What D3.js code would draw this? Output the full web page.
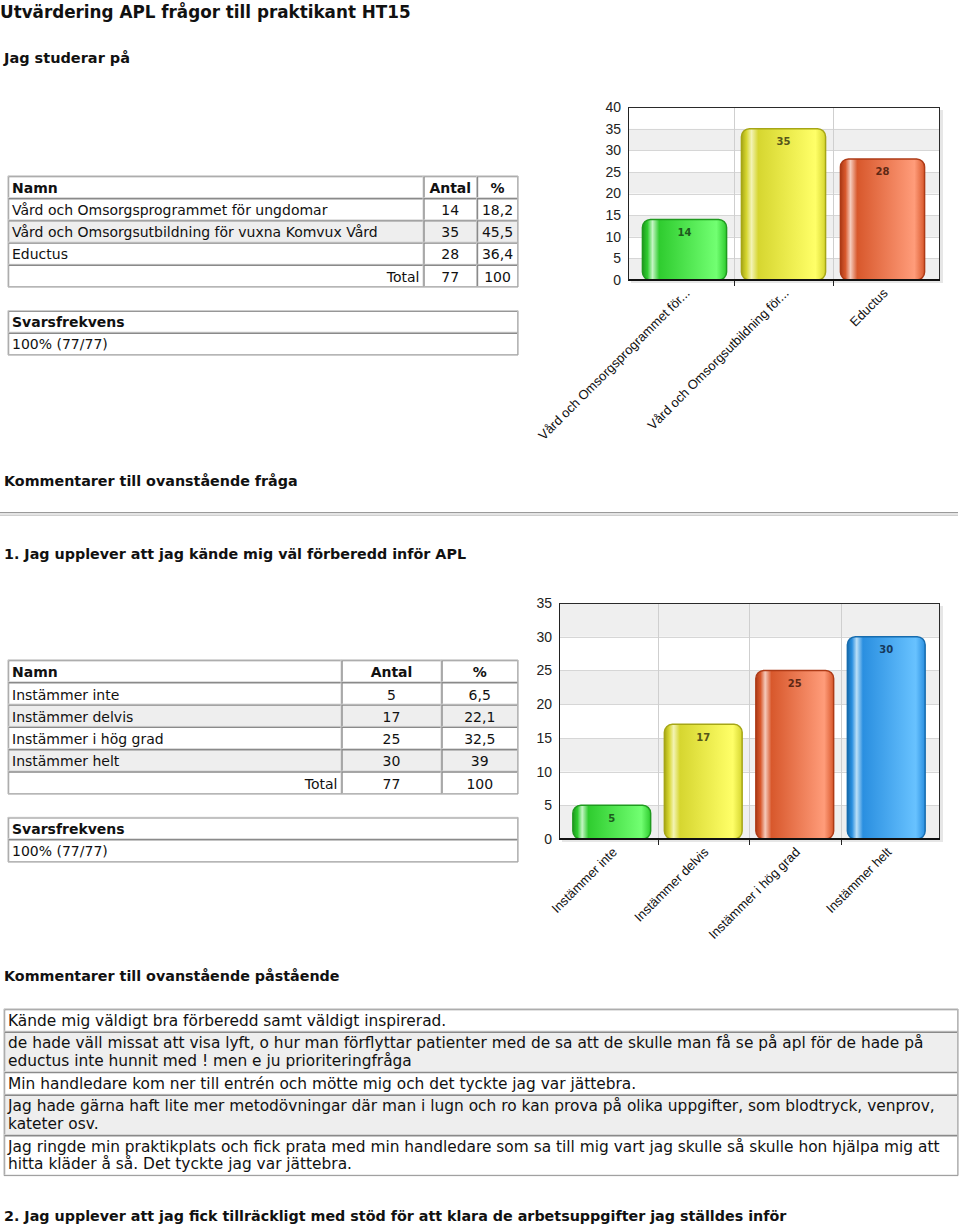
<!DOCTYPE html>
<html><head><meta charset="utf-8">
<script src="https://cdn.jsdelivr.net/npm/d3@7"></script>
<style>
html,body{margin:0;padding:0;background:#fff;}
svg{display:block;}
</style></head>
<body>
<script>
// ---------- DATA ----------
const pageTitle = "Utvärdering APL frågor till praktikant HT15";
const q0Title = "Jag studerar på";
const q0Categories = ["Vård och Omsorgsprogrammet för ungdomar", "Vård och Omsorgsutbildning för vuxna Komvux Vård", "Eductus"];
const q0AxisLabels = ["Vård och Omsorgsprogrammet för...", "Vård och Omsorgsutbildning för...", "Eductus"];
const q0Counts = [14, 35, 28];
const q0Percents = ["18,2", "45,5", "36,4"];
const q0Total = ["77", "100"];
const q0Ticks = [0, 5, 10, 15, 20, 25, 30, 35, 40];
const q0Response = "100% (77/77)";
const q0CommentHeading = "Kommentarer till ovanstående fråga";

const q1Title = "1. Jag upplever att jag kände mig väl förberedd inför APL";
const q1Categories = ["Instämmer inte", "Instämmer delvis", "Instämmer i hög grad", "Instämmer helt"];
const q1Counts = [5, 17, 25, 30];
const q1Percents = ["6,5", "22,1", "32,5", "39"];
const q1Total = ["77", "100"];
const q1Ticks = [0, 5, 10, 15, 20, 25, 30, 35];
const q1Response = "100% (77/77)";
const q1CommentHeading = "Kommentarer till ovanstående påstående";
const q1Comments = [
  ["Kände mig väldigt bra förberedd samt väldigt inspirerad."],
  ["de hade väll missat att visa lyft, o hur man förflyttar patienter med de sa att de skulle man få se på apl för de hade på",
   "eductus inte hunnit med ! men e ju prioriteringfråga"],
  ["Min handledare kom ner till entrén och mötte mig och det tyckte jag var jättebra."],
  ["Jag hade gärna haft lite mer metodövningar där man i lugn och ro kan prova på olika uppgifter, som blodtryck, venprov,",
   "kateter osv."],
  ["Jag ringde min praktikplats och fick prata med min handledare som sa till mig vart jag skulle så skulle hon hjälpa mig att",
   "hitta kläder å så. Det tyckte jag var jättebra."]
];
const q2Title = "2. Jag upplever att jag fick tillräckligt med stöd för att klara de arbetsuppgifter jag ställdes inför";
const tableHeaders = ["Namn", "Antal", "%"];
const responseHeader = "Svarsfrekvens";
const totalLabel = "Total";

// bar palette: [dark, base, light, highlight, labelColor]
const barPalette = [
  ["#1f9a1f", "#2fcc2f", "#72ff72", "#c4f5c4", "#1d5a1d"],
  ["#a6a616", "#d6d630", "#ffff68", "#f3f3b4", "#55551a"],
  ["#ad3a16", "#d8582c", "#ff9c7a", "#f5cabb", "#5e2814"],
  ["#176cae", "#2a8fe0", "#68c2ff", "#bcdff7", "#16395c"]
];

// ---------- SETUP ----------
const W = 960, H = 1225;
const svg = d3.select("body").append("svg").attr("width", W).attr("height", H)
  .attr("font-family", "'DejaVu Sans', Verdana, sans-serif");
const defs = svg.append("defs");

barPalette.forEach((p, i) => {
  const g = defs.append("linearGradient").attr("id", "bar" + i)
    .attr("x1", "0%").attr("x2", "100%").attr("y1", "0%").attr("y2", "0%");
  [[0, p[0]], [0.06, p[1]], [0.12, p[3]], [0.2, p[1]], [0.88, p[2]], [1, p[1]]]
    .forEach(([o, c]) => g.append("stop").attr("offset", o).attr("stop-color", c));
});

function heading(text, x, y, size) {
  svg.append("text").attr("x", x).attr("y", y).attr("font-weight", "bold")
    .attr("font-size", size).attr("fill", "#111").text(text);
}

heading(pageTitle, 0, 17.5, 16.8);
heading(q0Title, 4, 63, 14.5);
heading(q0CommentHeading, 4, 486, 14.3);
heading(q1Title, 4, 559, 14.3);
heading(q1CommentHeading, 4, 981, 14.3);
heading(q2Title, 4, 1221, 14.3);

// horizontal rule
svg.append("rect").attr("x", 0).attr("y", 512).attr("width", 958).attr("height", 3).attr("fill", "#e4e4e4");
svg.append("line").attr("x1", 0).attr("x2", 958).attr("y1", 512.5).attr("y2", 512.5).attr("stroke", "#9a9a9a");
svg.append("line").attr("x1", 0).attr("x2", 958).attr("y1", 515.5).attr("y2", 515.5).attr("stroke", "#d0d0d0");

// ---------- TABLES ----------
function drawTable(colB, rowB, rows, grayRows, fontSize, baseOff, lineH) {
  const g = svg.append("g").attr("font-size", fontSize);
  rows.forEach((row, ri) => {
    const y0 = rowB[ri], y1 = rowB[ri + 1];
    row.forEach((cell, ci) => {
      const x0 = colB[ci], x1 = colB[ci + 1];
      g.append("rect").attr("x", x0).attr("y", y0).attr("width", x1 - x0).attr("height", y1 - y0)
        .attr("fill", grayRows.includes(ri) ? "#eeeeee" : "#ffffff");
      g.append("path").attr("d", `M${x0 + 0.5},${y1}V${y0 + 0.5}H${x1}`).attr("fill", "none")
        .attr("stroke", "#8a8a8a").attr("stroke-width", 1.4);
      g.append("path").attr("d", `M${x0},${y1 - 0.5}H${x1 - 0.5}V${y0}`).attr("fill", "none")
        .attr("stroke", "#d2d2d2").attr("stroke-width", 1);
      if (cell.t === "") return;
      const lines = Array.isArray(cell.t) ? cell.t : [cell.t];
      const tx = cell.a === "middle" ? (x0 + x1) / 2 : cell.a === "end" ? x1 - 4 : x0 + 4;
      lines.forEach((ln, li) => {
        g.append("text").attr("x", tx).attr("y", y0 + baseOff + li * lineH)
          .attr("text-anchor", cell.a).attr("font-weight", cell.b ? "bold" : "normal")
          .attr("fill", "#111").text(ln);
      });
    });
  });
  const x0 = colB[0], x1 = colB[colB.length - 1], y0 = rowB[0], y1 = rowB[rowB.length - 1];
  g.append("path").attr("d", `M${x0},${y1}V${y0}H${x1}`).attr("fill", "none").attr("stroke", "#cfcfcf");
  g.append("path").attr("d", `M${x0},${y1}H${x1}V${y0}`).attr("fill", "none").attr("stroke", "#9a9a9a");
}

function countRows(cats, counts, pcts, total) {
  const rows = [tableHeaders.map((h, i) => ({ t: h, a: i === 0 ? "start" : "middle", b: true }))];
  cats.forEach((c, i) => rows.push([{ t: c, a: "start" }, { t: String(counts[i]), a: "middle" }, { t: pcts[i], a: "middle" }]));
  rows.push([{ t: totalLabel, a: "end" }, { t: total[0], a: "middle" }, { t: total[1], a: "middle" }]);
  return rows;
}

drawTable([8, 423.5, 477, 518], [176, 198.2, 220.4, 242.6, 264.8, 287],
  countRows(q0Categories, q0Counts, q0Percents, q0Total), [2], 14, 16.8, 18);
drawTable([8, 518], [310.7, 332.7, 355],
  [[{ t: responseHeader, a: "start", b: true }], [{ t: q0Response, a: "start" }]], [], 14, 16.5, 18);

drawTable([8, 341.5, 441.5, 518], [660, 682.3, 704.6, 726.9, 749.2, 771.5, 794],
  countRows(q1Categories, q1Counts, q1Percents, q1Total), [2, 4], 14, 17.2, 18);
drawTable([8, 518], [817.3, 839.3, 862],
  [[{ t: responseHeader, a: "start", b: true }], [{ t: q1Response, a: "start" }]], [], 14, 17, 18);

(function () {
  const lh = 17.7;
  const rowB = [1009];
  q1Comments.forEach(c => rowB.push(rowB[rowB.length - 1] + c.length * lh + 5));
  drawTable([4, 958], rowB, q1Comments.map(c => [{ t: c, a: "start" }]), [1, 3], 15.4, 16.5, lh);
})();

// ---------- CHARTS ----------
function drawBarChart(cfg) {
  const [fx0, fx1, fy0, fy1] = cfg.frame;
  const g = svg.append("g");
  const x = d3.scaleBand().domain(cfg.cats).range(cfg.band).padding(0);
  const y = d3.scaleLinear().domain([0, cfg.yMax]).range([fy1, fy0]);

  for (let i = 0; i < cfg.ticks.length - 1; i++) {
    const a = cfg.ticks[i], b = cfg.ticks[i + 1];
    g.append("rect").attr("x", fx0).attr("width", fx1 - fx0)
      .attr("y", y(b)).attr("height", y(a) - y(b))
      .attr("fill", (a / 5) % 2 === 0 ? "#efefef" : "#ffffff");
  }
  g.append("rect").attr("x", fx1).attr("y", fy0 + 3).attr("width", 3).attr("height", fy1 - fy0)
    .attr("fill", "#e6e6e6");
  g.append("rect").attr("x", fx0 + 3).attr("y", fy1).attr("width", fx1 - fx0).attr("height", 3)
    .attr("fill", "#e6e6e6");
  cfg.ticks.forEach(t => g.append("line").attr("x1", fx0).attr("x2", fx1)
    .attr("y1", Math.round(y(t)) + 0.5).attr("y2", Math.round(y(t)) + 0.5).attr("stroke", "#d6d6d6"));
  cfg.cats.slice(1).forEach(c => {
    const bx = Math.round(x(c)) + 0.5;
    g.append("line").attr("x1", bx).attr("x2", bx).attr("y1", fy0).attr("y2", fy1).attr("stroke", "#cfcfcf");
    g.append("line").attr("x1", bx).attr("x2", bx).attr("y1", fy1).attr("y2", fy1 + 6).attr("stroke", "#222");
  });
  g.append("rect").attr("x", fx0 + 0.5).attr("y", fy0 + 0.5).attr("width", fx1 - fx0 - 1).attr("height", fy1 - fy0)
    .attr("fill", "none").attr("stroke", "#2a2a2a");

  const bw = x.bandwidth() * 0.85;
  cfg.cats.forEach((c, i) => {
    const v = cfg.values[i], p = barPalette[i];
    const bx = x(c) + (x.bandwidth() - bw) / 2;
    g.append("rect").attr("x", bx).attr("y", y(v)).attr("width", bw).attr("height", y(0) - y(v))
      .attr("rx", 8).attr("ry", 8).attr("fill", `url(#bar${i})`)
      .attr("stroke", p[0]).attr("stroke-width", 1.5);
    g.append("text").attr("x", bx + bw / 2).attr("y", y(v) + 16.5).attr("text-anchor", "middle")
      .attr("font-size", 10).attr("font-weight", "bold").attr("fill", p[4]).text(v);
  });

  g.append("line").attr("x1", fx0).attr("x2", fx1).attr("y1", fy1).attr("y2", fy1)
    .attr("stroke", "#111").attr("stroke-width", 2);

  const ya = g.append("g").attr("transform", `translate(${fx0},0)`)
    .call(d3.axisLeft(y).tickValues(cfg.ticks).tickSize(0).tickPadding(7));
  ya.select(".domain").attr("stroke", "#222");
  ya.selectAll("text").attr("font-family", "'Liberation Sans', Arial, sans-serif")
    .attr("font-size", 14).attr("fill", "#222");

  const xa = g.append("g").attr("transform", `translate(0,${fy1})`)
    .call(d3.axisBottom(x).tickSize(0).tickFormat((d, i) => cfg.labels[i]));
  xa.select(".domain").remove();
  xa.selectAll("text")
    .attr("font-family", "'Liberation Sans', Arial, sans-serif").attr("font-size", 13)
    .attr("fill", "#111").attr("text-anchor", "end").attr("dy", null).attr("y", 0)
    .attr("transform", "translate(6,14) rotate(-45)");
}

drawBarChart({
  frame: [628, 940, 107, 280], band: [635, 932], yMax: 40, ticks: q0Ticks,
  cats: q0Categories, labels: q0AxisLabels, values: q0Counts
});
drawBarChart({
  frame: [559, 940, 603, 839], band: [566, 932], yMax: 35, ticks: q1Ticks,
  cats: q1Categories, labels: q1Categories, values: q1Counts
});
</script>
</body></html>
